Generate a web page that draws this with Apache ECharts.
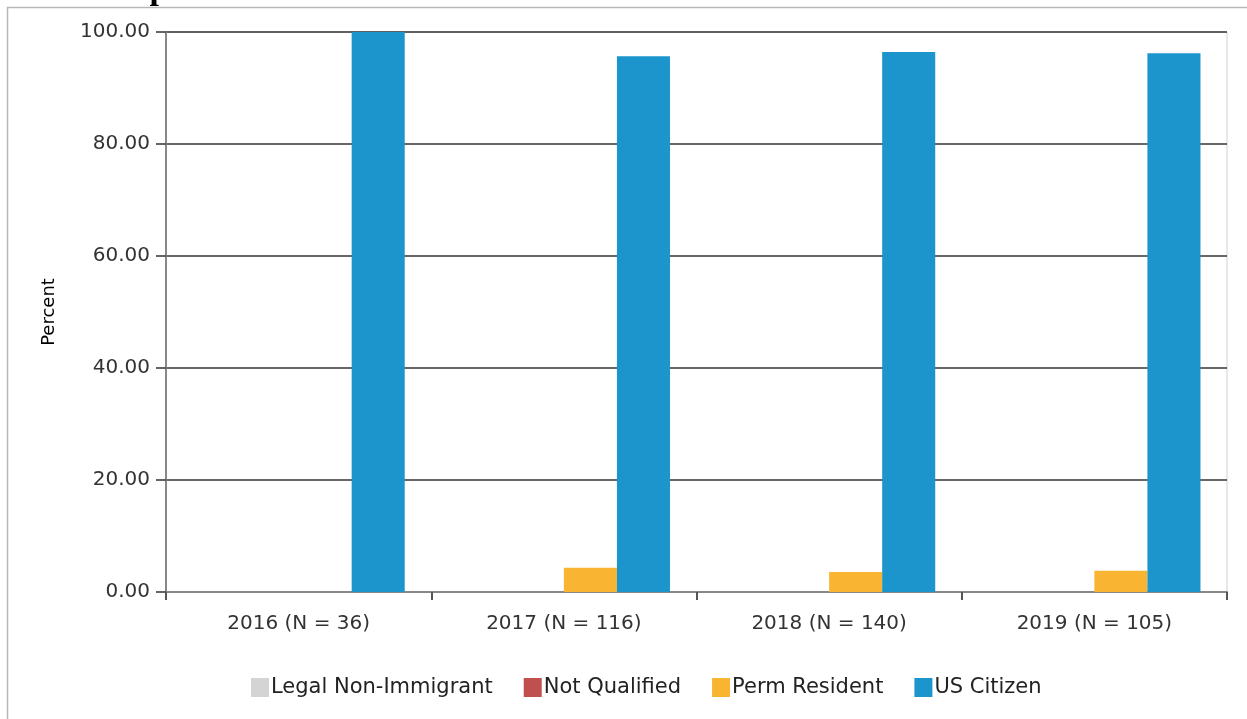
<!DOCTYPE html>
<html>
<head>
<meta charset="utf-8">
<style>
  html, body { margin: 0; padding: 0; background: #ffffff; }
  #chart { width: 1247px; height: 719px; }
</style>
<script src="https://cdn.jsdelivr.net/npm/echarts@6/dist/echarts.min.js"></script>
</head>
<body>
<div id="chart"></div>
<script>
// Cohort years with headcounts
var categories = ['2016 (N = 36)', '2017 (N = 116)', '2018 (N = 140)', '2019 (N = 105)'];

// Percent of each cohort by citizenship status
var legalNonImmigrant = [0, 0, 0, 0];
var notQualified = [0, 0, 0, 0];
var permResident = [0, 4.31, 3.57, 3.81];
var usCitizen = [100, 95.69, 96.43, 96.19];

var seriesNames = ['Legal Non-Immigrant', 'Not Qualified', 'Perm Resident', 'US Citizen'];
var seriesColors = ['#d4d4d4', '#c0504d', '#f9b531', '#1b95cc'];
var seriesData = [legalNonImmigrant, notQualified, permResident, usCitizen];

var FONT = '"DejaVu Sans"';

var chart = echarts.init(document.getElementById('chart'), null, { renderer: 'canvas' });

var series = seriesNames.map(function (name, i) {
  return {
    name: name,
    type: 'bar',
    data: seriesData[i],
    barGap: '0%',
    barCategoryGap: '20%',
    itemStyle: { color: seriesColors[i] },
    emphasis: { disabled: true }
  };
});

chart.setOption({
  animation: false,
  backgroundColor: '#ffffff',
  textStyle: { fontFamily: FONT },
  graphic: [
    {
      type: 'rect',
      silent: true,
      shape: { x: 7.5, y: 7.5, width: 1300, height: 800 },
      style: { fill: 'none', stroke: '#b8b8b8', lineWidth: 1.5 }
    },
    {
      // section heading, sitting above the chart frame
      type: 'text',
      silent: true,
      x: 4,
      y: 7.5,
      style: {
        text: 'Citizenship Status',
        font: 'bold 34px "Liberation Serif"',
        fill: '#000000',
        verticalAlign: 'bottom'
      }
    }
  ],
  grid: {
    left: 166,
    right: 20,
    top: 32,
    bottom: 127,
    show: true,
    borderColor: '#d0d0d0',
    borderWidth: 1,
    containLabel: false
  },
  legend: {
    data: seriesNames,
    left: 246,
    top: 672,
    itemWidth: 18,
    itemHeight: 19,
    itemGap: 31,
    icon: 'rect',
    textStyle: { fontSize: 21, color: '#222222', fontFamily: FONT, padding: [0, 0, 0, -3] }
  },
  xAxis: {
    type: 'category',
    data: categories,
    axisLine: { show: true, lineStyle: { color: '#888888', width: 2 } },
    axisTick: { show: true, length: 8, alignWithLabel: false, lineStyle: { color: '#555555', width: 2 } },
    axisLabel: { fontSize: 20, color: '#333333', margin: 22, fontFamily: FONT },
    splitLine: { show: false }
  },
  yAxis: {
    type: 'value',
    min: 0,
    max: 100,
    interval: 20,
    name: 'Percent',
    nameLocation: 'middle',
    nameRotate: 90,
    nameGap: 108,
    nameTextStyle: { fontSize: 18, color: '#000000', fontFamily: FONT },
    axisLine: { show: true, lineStyle: { color: '#888888', width: 2 } },
    axisTick: { show: true, length: 10, inside: false, lineStyle: { color: '#333333', width: 1.5 } },
    axisLabel: {
      fontSize: 20,
      color: '#333333',
      margin: 16,
      fontFamily: FONT,
      formatter: function (v) { return v.toFixed(2); }
    },
    splitLine: { show: true, lineStyle: { color: '#333333', width: 1.5 } }
  },
  series: series
});
</script>
</body>
</html>
